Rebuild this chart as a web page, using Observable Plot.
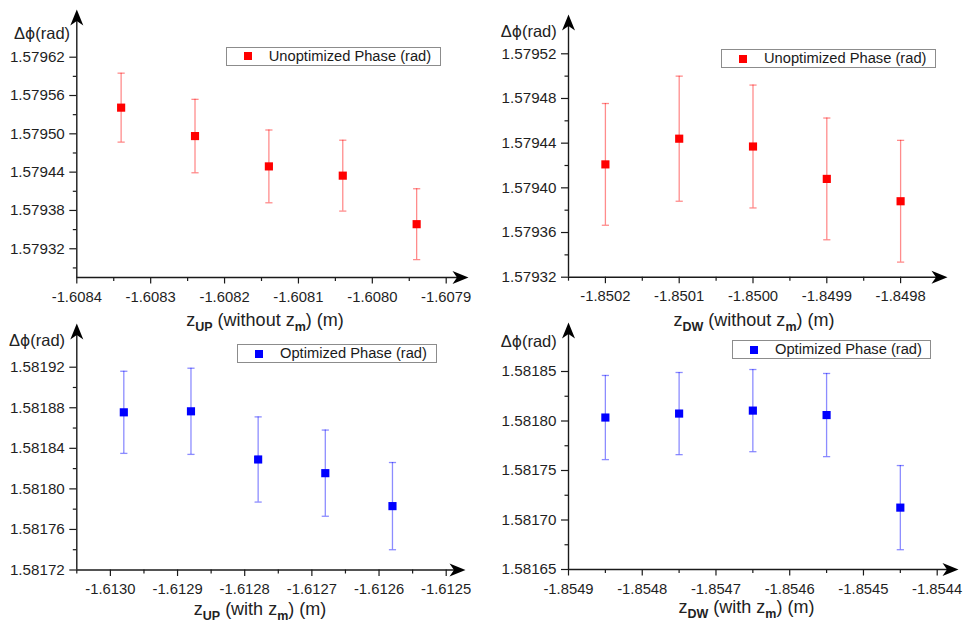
<!DOCTYPE html>
<html>
<head>
<meta charset="utf-8">
<script src="https://cdn.jsdelivr.net/npm/d3@7"></script>
<script src="https://cdn.jsdelivr.net/npm/@observablehq/plot@0.6"></script>
<style>
  body { margin: 0; background: #fff; font-family: "Liberation Sans", Arial, sans-serif; }
  #figure { position: relative; width: 965px; height: 627px; overflow: hidden; background: #fff; }
  .panel { position: absolute; }
  .panel svg { position: absolute; left: 0; top: 0; overflow: visible; }
  .ylab { position: absolute; font-size: 16.5px; line-height: 18px; color: #222; white-space: nowrap; }
  .ylab .phi { font-family: "DejaVu Sans", sans-serif; font-size: 15.5px; }
  .xlab { position: absolute; font-size: 18px; line-height: 18px; color: #222; white-space: nowrap; transform: translateX(-50%); }
  .xlab b { font-size: 12.5px; position: relative; top: 0.4em; }
  .legend { position: absolute; border: 1px solid #8c8c8c; box-sizing: border-box; background: #fff; }
  .legend .sw { position: absolute; width: 8px; height: 8px; }
  .legend .tx { position: absolute; font-size: 14.7px; color: #1a1a1a; white-space: nowrap; }
</style>
</head>
<body>
<div id="figure"></div>
<script>
// Phase difference vs. reference-plane position, four scans.

// z_UP without z_m
const upWithoutZ = [-1.60834, -1.60824, -1.60814, -1.60804, -1.60794];
const upWithoutPhase = [1.579541, 1.5794965, 1.579449, 1.5794345, 1.5793585];
const upWithoutErr = [0.000054, 0.0000575, 0.000057, 0.0000555, 0.0000555];
const upWithoutXTicks = [-1.6084, -1.6083, -1.6082, -1.6081, -1.6080, -1.6079];
const upWithoutYTicks = [1.57932, 1.57938, 1.57944, 1.57950, 1.57956, 1.57962];

// z_DW without z_m
const dwWithoutZ = [-1.8502, -1.8501, -1.8500, -1.8499, -1.8498];
const dwWithoutPhase = [1.579421, 1.579444, 1.579437, 1.579408, 1.579388];
const dwWithoutErr = [0.0000545, 0.000056, 0.000055, 0.0000545, 0.0000545];
const dwWithoutXTicks = [-1.8502, -1.8501, -1.8500, -1.8499, -1.8498];
const dwWithoutYTicks = [1.57932, 1.57936, 1.57940, 1.57944, 1.57948, 1.57952];

// z_UP with z_m
const upWithZ = [-1.61298, -1.61288, -1.61278, -1.61268, -1.61258];
const upWithPhase = [1.5818755, 1.5818765, 1.581829, 1.5818155, 1.581783];
const upWithErr = [0.0000405, 0.0000425, 0.000042, 0.0000425, 0.000043];
const upWithXTicks = [-1.6130, -1.6129, -1.6128, -1.6127, -1.6126, -1.6125];
const upWithYTicks = [1.58172, 1.58176, 1.58180, 1.58184, 1.58188, 1.58192];

// z_DW with z_m
const dwWithZ = [-1.85485, -1.85475, -1.85465, -1.85455, -1.85445];
const dwWithPhase = [1.5818035, 1.5818075, 1.5818105, 1.581806, 1.5817125];
const dwWithErr = [0.0000425, 0.0000415, 0.0000415, 0.000042, 0.0000425];
const dwWithXTicks = [-1.8549, -1.8548, -1.8547, -1.8546, -1.8545, -1.8544];
const dwWithYTicks = [1.58165, 1.58170, 1.58175, 1.58180, 1.58185];

const unoptLabel = "Unoptimized Phase (rad)";
const optLabel = "Optimized Phase (rad)";

const RED = "#ff0000";
const BLUE = "#0000ff";
const AXIS = "#1a1a1a";

const panels = [
  { left: 0, top: 0, width: 480, height: 320,
    z: upWithoutZ, phase: upWithoutPhase, err: upWithoutErr,
    xTicks: upWithoutXTicks, yTicks: upWithoutYTicks,
    xDomain: [-1.6084, -1.6079], yDomain: [1.579275, 1.57962],
    xPx: [76.3, 445.7], yPx: [277, 56.7], xTip: 468, yTip: 9,
    color: RED, legend: unoptLabel, legendBox: [225.7, 46.7, 215, 19.3],
    ylab: [14, 33], xlab: ["UP", "without "], xlabPos: [265, 326] },
  { left: 480, top: 0, width: 485, height: 320,
    z: dwWithoutZ, phase: dwWithoutPhase, err: dwWithoutErr,
    xTicks: dwWithoutXTicks, yTicks: dwWithoutYTicks,
    xDomain: [-1.85025, -1.84975], yDomain: [1.57932, 1.57952],
    xPx: [88, 457], yPx: [276.7, 53.3], xTip: 467, yTip: 14,
    color: RED, legend: unoptLabel, legendBox: [241, 49, 214.7, 19.3],
    ylab: [20.7, 31], xlab: ["DW", "without "], xlabPos: [274, 326] },
  { left: 0, top: 320, width: 480, height: 307,
    z: upWithZ, phase: upWithPhase, err: upWithErr,
    xTicks: upWithXTicks, yTicks: upWithYTicks,
    xDomain: [-1.61305, -1.6125], yDomain: [1.58172, 1.58192],
    xPx: [76.3, 445.7], yPx: [249.5, 46.7], xTip: 465, yTip: 3,
    color: BLUE, legend: optLabel, legendBox: [237, 24.3, 199.7, 18.7],
    ylab: [9, 20], xlab: ["UP", "with "], xlabPos: [260, 295] },
  { left: 480, top: 320, width: 485, height: 307,
    z: dwWithZ, phase: dwWithPhase, err: dwWithErr,
    xTicks: dwWithXTicks, yTicks: dwWithYTicks,
    xDomain: [-1.8549, -1.8544], yDomain: [1.58165, 1.58185],
    xPx: [88, 456.7], yPx: [249, 51], xTip: 478, yTip: 2,
    color: BLUE, legend: optLabel, legendBox: [252, 20, 198.7, 19],
    ylab: [20.7, 21], xlab: ["DW", "with "], xlabPos: [266.5, 293] }
];

// half-step ticks between the labelled ones, kept inside the domain
function minorTicks(major, domain) {
  const step = major[1] - major[0];
  const eps = Math.abs(step) * 1e-6;
  const lo = Math.min(...domain) - eps, hi = Math.max(...domain) + eps;
  const out = [];
  for (let k = -1; k <= major.length; k++) {
    const v = major[0] + (k + 0.5) * step;
    if (v >= lo && v <= hi) out.push(v);
  }
  return out;
}

// filled arrowheads drawn with their tip at the symbol origin
const arrowUp = { draw(ctx) { ctx.moveTo(0, 0); ctx.lineTo(6.5, 16); ctx.lineTo(0, 11.5); ctx.lineTo(-6.5, 16); ctx.closePath(); } };
const arrowRight = { draw(ctx) { ctx.moveTo(0, 0); ctx.lineTo(-16, 6.5); ctx.lineTo(-11.5, 0); ctx.lineTo(-16, -6.5); ctx.closePath(); } };
// horizontal cap for the error bars
const cap = { draw(ctx) { ctx.moveTo(-3.6, 0); ctx.lineTo(3.6, 0); } };

const figure = document.getElementById("figure");

for (const p of panels) {
  const holder = document.createElement("div");
  holder.className = "panel";
  Object.assign(holder.style, { left: p.left + "px", top: p.top + "px", width: p.width + "px", height: p.height + "px" });

  const xs = d3.scaleLinear(p.xDomain, p.xPx);
  const ys = d3.scaleLinear(p.yDomain, p.yPx);
  const xTipVal = xs.invert(p.xTip), yTipVal = ys.invert(p.yTip);
  const xLineEnd = xs.invert(p.xTip - 10), yLineEnd = ys.invert(p.yTip + 10);

  const rows = p.z.map((z, i) => ({ z, phase: p.phase[i], err: p.err[i] }));

  const chart = Plot.plot({
    width: p.width,
    height: p.height,
    marginLeft: p.xPx[0],
    marginRight: p.width - p.xPx[1],
    marginTop: p.yPx[1],
    marginBottom: p.height - p.yPx[0],
    x: { domain: p.xDomain },
    y: { domain: p.yDomain },
    style: { fontFamily: "'Liberation Sans', Arial, sans-serif", color: "#1f1f1f", background: "transparent", overflow: "visible" },
    marks: [
      Plot.axisY({ ticks: minorTicks(p.yTicks, p.yDomain), tickSize: 3.5, tickFormat: () => "", label: null, stroke: AXIS, strokeWidth: 1.2 }),
      Plot.axisY({ ticks: p.yTicks, tickSize: 7, tickPadding: 5, tickFormat: d => d.toFixed(5), fontSize: 15.2, label: null, stroke: AXIS, strokeWidth: 1.2 }),
      Plot.axisX({ ticks: minorTicks(p.xTicks, p.xDomain), tickSize: 4, tickFormat: () => "", label: null, stroke: AXIS, strokeWidth: 1.2 }),
      Plot.axisX({ ticks: p.xTicks, tickSize: 6.5, tickPadding: 7, tickFormat: d => d.toFixed(4), fontSize: 14.8, label: null, stroke: AXIS, strokeWidth: 1.2 }),
      Plot.ruleX([{ x: p.xDomain[0], y1: p.yDomain[0], y2: yLineEnd }], { x: "x", y1: "y1", y2: "y2", stroke: AXIS, strokeWidth: 1.4 }),
      Plot.ruleY([{ y: p.yDomain[0], x1: p.xDomain[0], x2: xLineEnd }], { y: "y", x1: "x1", x2: "x2", stroke: AXIS, strokeWidth: 1.4 }),
      Plot.dot([{ x: p.xDomain[0], y: yTipVal }], { x: "x", y: "y", symbol: arrowUp, fill: "#000", stroke: "none" }),
      Plot.dot([{ x: xTipVal, y: p.yDomain[0] }], { x: "x", y: "y", symbol: arrowRight, fill: "#000", stroke: "none" }),
      Plot.ruleX(rows, { x: "z", y1: d => d.phase - d.err, y2: d => d.phase + d.err, stroke: p.color, strokeOpacity: 0.45, strokeWidth: 1.3 }),
      Plot.dot(rows, { x: "z", y: d => d.phase + d.err, symbol: cap, fill: "none", stroke: p.color, strokeOpacity: 0.45, strokeWidth: 1.3 }),
      Plot.dot(rows, { x: "z", y: d => d.phase - d.err, symbol: cap, fill: "none", stroke: p.color, strokeOpacity: 0.45, strokeWidth: 1.3 }),
      Plot.dot(rows, { x: "z", y: "phase", symbol: "square", r: 4.6, fill: p.color, stroke: "none" })
    ]
  });
  holder.appendChild(chart);

  // y-axis title beside the arrow
  const yl = document.createElement("div");
  yl.className = "ylab";
  yl.innerHTML = `\u0394<span class="phi">\u03d5</span>(rad)`;
  yl.style.left = p.ylab[0] + "px";
  yl.style.top = (p.ylab[1] - 9) + "px";
  holder.appendChild(yl);

  // x-axis title with subscripts
  const xl = document.createElement("div");
  xl.className = "xlab";
  xl.innerHTML = `z<b>${p.xlab[0]}</b> (${p.xlab[1]}z<b>m</b>) (m)`;
  xl.style.left = p.xlabPos[0] + "px";
  xl.style.top = (p.xlabPos[1] - 15) + "px";
  holder.appendChild(xl);

  // legend box
  const [lx, ly, lw, lh] = p.legendBox;
  const lg = document.createElement("div");
  lg.className = "legend";
  Object.assign(lg.style, { left: lx + "px", top: ly + "px", width: lw + "px", height: lh + "px" });
  const sw = document.createElement("div");
  sw.className = "sw";
  Object.assign(sw.style, { left: "17px", top: ((lh - 2) / 2 - 4) + "px", background: p.color });
  const tx = document.createElement("div");
  tx.className = "tx";
  tx.textContent = p.legend;
  Object.assign(tx.style, { left: "42px", top: "0px", lineHeight: (lh - 2) + "px" });
  lg.appendChild(sw);
  lg.appendChild(tx);
  holder.appendChild(lg);

  figure.appendChild(holder);
}
</script>
</body>
</html>
